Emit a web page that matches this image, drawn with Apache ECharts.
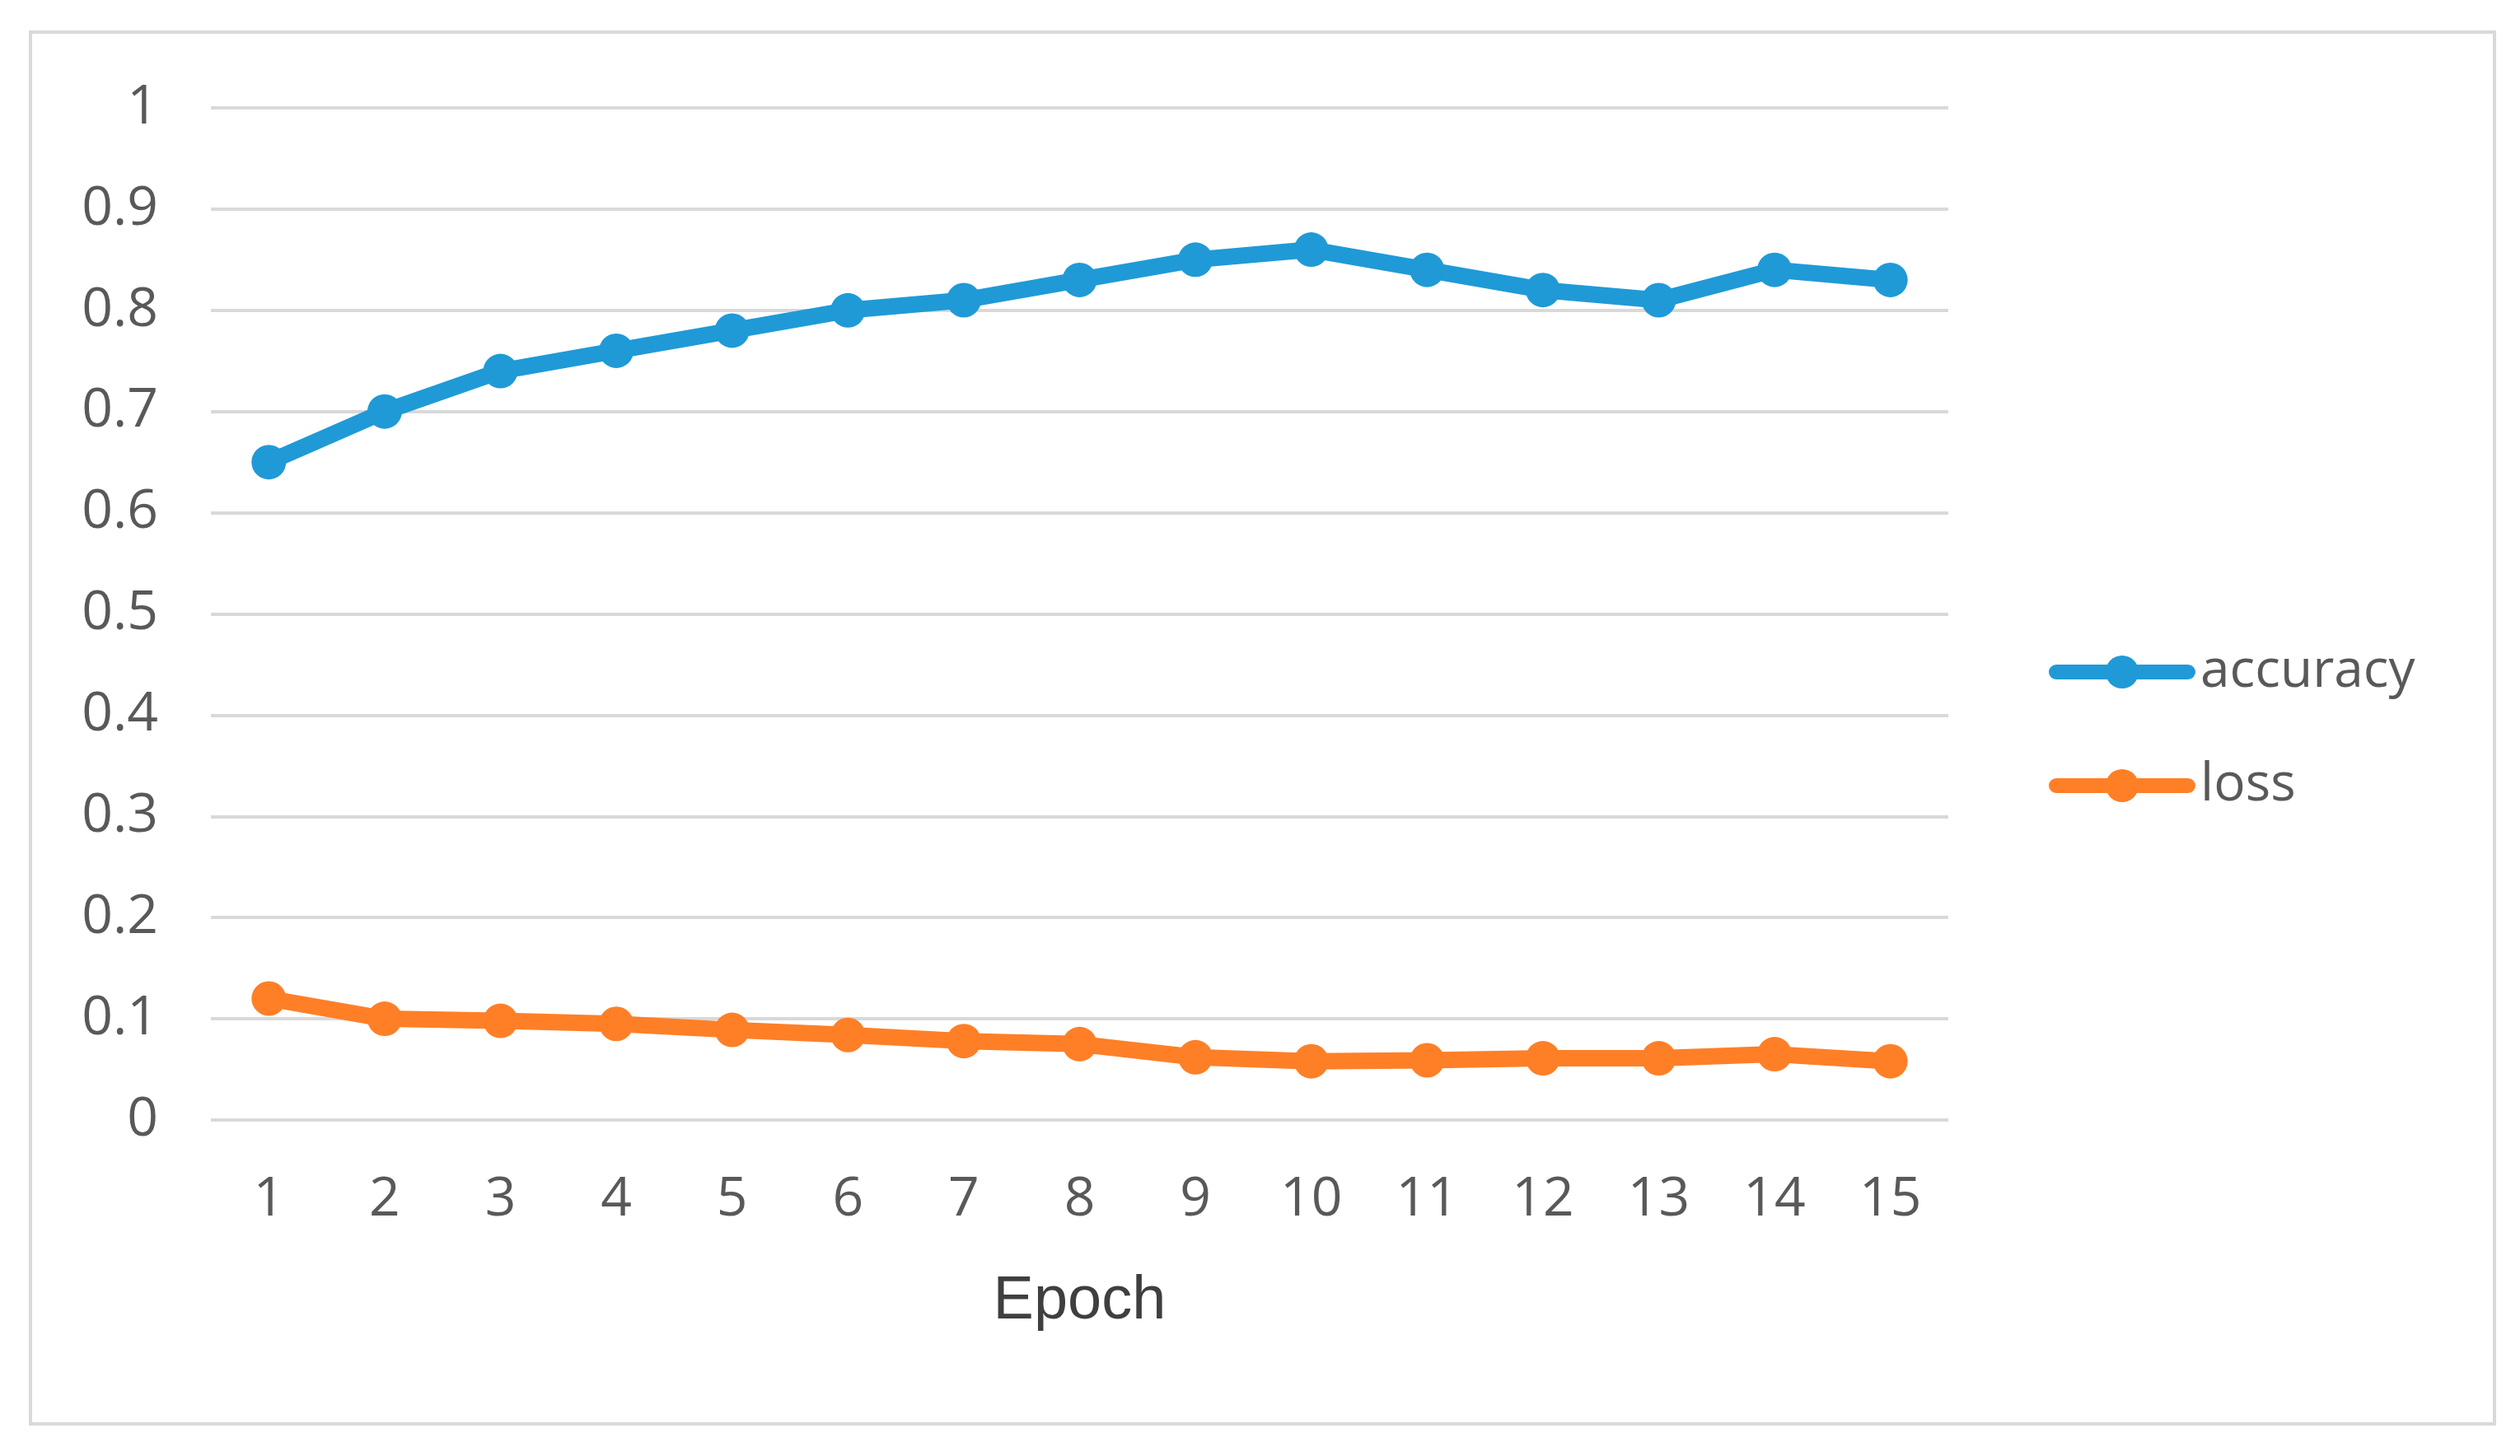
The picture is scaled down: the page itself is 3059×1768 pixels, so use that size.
<!DOCTYPE html>
<html>
<head>
<meta charset="utf-8">
<script src="https://cdn.jsdelivr.net/npm/echarts@6/dist/echarts.min.js"></script>
<style>
html,body{margin:0;padding:0;background:#fff;}
#chart{width:3059px;height:1768px;}
</style>
</head>
<body>
<div id="chart"></div>
<script>
const epochs = ['1','2','3','4','5','6','7','8','9','10','11','12','13','14','15'];
const accuracy = [0.65,0.70,0.74,0.76,0.78,0.80,0.81,0.83,0.85,0.86,0.84,0.82,0.81,0.84,0.83];
const loss = [0.12,0.10,0.098,0.095,0.089,0.084,0.078,0.075,0.062,0.058,0.059,0.061,0.061,0.065,0.058];
const yTicks = [0,0.1,0.2,0.3,0.4,0.5,0.6,0.7,0.8,0.9,1];

const chart = echarts.init(document.getElementById('chart'));
const labelFont = 'Open Sans';
chart.setOption({
  backgroundColor: '#ffffff',
  animation: false,
  graphic: [{
    type: 'rect',
    shape: {x: 37, y: 39, width: 2991, height: 1690},
    style: {fill: 'none', stroke: '#d9d9d9', lineWidth: 4},
    silent: true
  }],
  grid: {left: 256, right: 694, top: 131, bottom: 408, containLabel: false},
  legend: {
    orient: 'vertical',
    left: 2482,
    top: 779,
    padding: 5,
    itemWidth: 160,
    itemHeight: 50,
    itemGap: 74,
    data: ['accuracy', 'loss'],
    lineStyle: {width: 18, cap: 'round'},
    textStyle: {fontFamily: labelFont, fontSize: 64, color: '#595959', padding: [0,0,0,10]}
  },
  xAxis: {
    type: 'category',
    data: epochs,
    boundaryGap: true,
    axisLine: {show: false},
    axisTick: {show: false},
    axisLabel: {fontFamily: labelFont, fontSize: 66, color: '#595959', margin: 64},
    name: 'Epoch',
    nameLocation: 'middle',
    nameGap: 184,
    nameTextStyle: {fontFamily: 'Liberation Sans', fontSize: 74, color: '#3f3f3f'}
  },
  yAxis: {
    type: 'value',
    min: 0,
    max: 1,
    interval: 0.1,
    axisLine: {show: false},
    axisTick: {show: false},
    splitLine: {lineStyle: {color: '#d9d9d9', width: 4}},
    axisLabel: {
      fontFamily: labelFont, fontSize: 66, color: '#595959', margin: 64,
      formatter: function (v) { const t = yTicks.find(x => Math.abs(x - v) < 1e-9); return t === undefined ? '' : String(t); }
    }
  },
  series: [
    {
      name: 'accuracy', type: 'line', data: accuracy,
      symbol: 'circle', symbolSize: 42,
      lineStyle: {width: 20, color: '#1f9ad7', cap: 'round', join: 'round'},
      itemStyle: {color: '#1f9ad7'}
    },
    {
      name: 'loss', type: 'line', data: loss,
      symbol: 'circle', symbolSize: 42,
      lineStyle: {width: 20, color: '#ff7f27', cap: 'round', join: 'round'},
      itemStyle: {color: '#ff7f27'}
    }
  ]
});
</script>
</body>
</html>
